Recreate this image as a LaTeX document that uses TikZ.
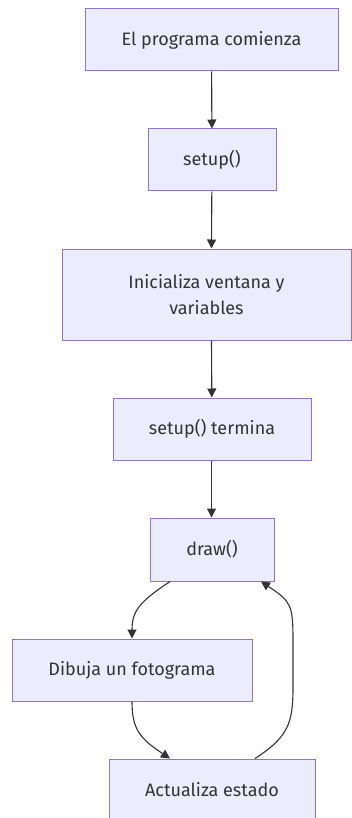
\documentclass[tikz,border=0pt]{standalone}
\usepackage{fontspec}
\setmainfont{Fira Sans}
\usetikzlibrary{arrows.meta}

\definecolor{boxfill}{HTML}{ECECFF}
\definecolor{boxline}{HTML}{9370DB}
\definecolor{ink}{HTML}{333333}

\tikzset{
	paso/.style={draw=boxline, fill=boxfill, line width=1pt, text=ink, inner sep=0pt, align=center,
		font=\fontsize{18}{26}\selectfont},
	flecha/.style={draw=ink, line width=1.1pt, -{Triangle[length=9pt,width=9pt]}}
}

\begin{document}
\begin{tikzpicture}[x=1pt,y=-1pt]
		\useasboundingbox (0,0) rectangle (352,818);
		
		\node [paso, minimum width=253pt, minimum height=62pt] (prog) at (211.5,40) {El programa comienza};
		\node [paso, minimum width=128pt, minimum height=62pt] (setup) at (212,160) {setup()};
		\node [paso, minimum width=289pt, minimum height=91pt] (init) at (206.5,294.5) {Inicializa ventana y\\variables};
		\node [paso, minimum width=198pt, minimum height=62pt] (fin) at (212,429) {setup() termina};
		\node [paso, minimum width=124pt, minimum height=63pt] (dibujar) at (212,549.5) {draw()};
		\node [paso, minimum width=240pt, minimum height=62pt] (fotograma) at (132,670) {Dibuja un fotograma};
		\node [paso, minimum width=206pt, minimum height=62pt] (estado) at (212,790) {Actualiza estado};
		
		\draw [flecha] (prog) -- (setup);
		\draw [flecha] (setup) -- (prog |- init.north);
		\draw [flecha] (prog |- init.south) -- (fin);
		\draw [flecha] (prog |- fin.south) -- (prog |- dibujar.north);
		
		% bucle de dibujo
		\draw [flecha] ([xshift=-42pt]dibujar.south) .. controls +(-30,20) and +(0,-28) .. (fotograma.north);
		\draw [flecha] (fotograma.south) .. controls +(0,28) and +(-30,-20) .. ([xshift=-42pt]estado.north);
		\draw [flecha] ([xshift=43pt]estado.north) .. controls +(34,-22) and +(0,36) .. ++(38,-72) -- ++(0,-46)
			.. controls +(0,-36) and +(30,20) .. ([xshift=49pt]dibujar.south);
		
	\end{tikzpicture}
\end{document}
